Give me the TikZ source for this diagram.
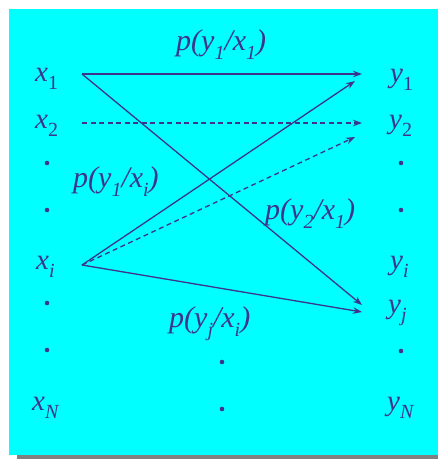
\documentclass[tikz,border=0pt]{standalone}
\usepackage{fontspec}
\setmainfont{Liberation Serif}
\usetikzlibrary{arrows.meta}
\definecolor{ink}{RGB}{62,52,138}
\definecolor{bgcyan}{RGB}{0,255,255}
\definecolor{shadowgray}{RGB}{128,128,128}
\newcommand\subup[1]{\raisebox{-0.3em}{\fontsize{20}{20}\selectfont\upshape #1}}
\newcommand\subit[1]{\raisebox{-0.3em}{\fontsize{20}{20}\selectfont\itshape #1}}
\tikzset{
  var/.style={text=ink, anchor=base west, inner sep=0pt, font=\fontsize{29}{29}\selectfont\itshape},
  prob/.style={text=ink, anchor=base west, inner sep=0pt, font=\fontsize{30}{30}\selectfont\itshape},
  dot/.style={circle, fill=ink, draw=none, minimum size=4.6pt, inner sep=0pt},
  link/.style={draw=ink, line width=1.3pt, -{Stealth[length=9pt,width=6.5pt]}},
  dlink/.style={link, dash pattern=on 5pt off 3.5pt},
}
\begin{document}
\begin{tikzpicture}[x=1pt,y=-1pt]
\useasboundingbox (0,0) rectangle (438,459);
\fill[white] (0,0) rectangle (438,459);
\fill[shadowgray] (17,452) rectangle (438,459);
\fill[bgcyan] (9,9) rectangle (438,455);
% left variables
\node[var] (x1) at (35,81) {x\subup{1}};
\node[var] (x2) at (35,128) {x\subup{2}};
\node[dot] (ld1) at (47,163) {};
\node[dot] (ld2) at (47,210) {};
\node[var] (xi) at (36,269) {x\subit{i}};
\node[dot] (ld3) at (47,303) {};
\node[dot] (ld4) at (47,350) {};
\node[var] (xN) at (32,410) {x\subit{N}};
% right variables
\node[var] (y1) at (390,82) {y\subup{1}};
\node[var] (y2) at (389,128) {y\subup{2}};
\node[dot] (rd1) at (401,163) {};
\node[dot] (rd2) at (401,210) {};
\node[var] (yi) at (390,269) {y\subit{i}};
\node[var] (yj) at (388,313) {y\subit{j}};
\node[dot] (rd3) at (401,351) {};
\node[var] (yN) at (387,410) {y\subit{N}};
% middle dots
\node[dot] (md1) at (222,362) {};
\node[dot] (md2) at (222,409) {};
% probability labels
\node[prob] (p11) at (176,50) {p(y\subit{1}/x\subit{1})};
\node[prob] (p1i) at (73,187) {p(y\subit{1}/x\subit{i})};
\node[prob] (p21) at (265,219) {p(y\subit{2}/x\subit{1})};
\node[prob] (pji) at (169,327) {p(y\subit{j}/x\subit{i})};
% connector end points
\coordinate (s1) at (82,74);
\coordinate (s2) at (82,123);
\coordinate (si) at (82,265);
\coordinate (e11) at (362,74);
\coordinate (e22) at (362,123);
\coordinate (e1j) at (362,305);
\coordinate (ei1) at (355,81);
\coordinate (ei2) at (355,137);
\coordinate (eij) at (362,312);
% connectors
\draw[link] (s1) -- (e11);
\draw[link] (s1) -- (e1j);
\draw[dlink] (s2) -- (e22);
\draw[link] (si) -- (ei1);
\draw[dlink] (si) -- (ei2);
\draw[link] (si) -- (eij);
\end{tikzpicture}
\end{document}
